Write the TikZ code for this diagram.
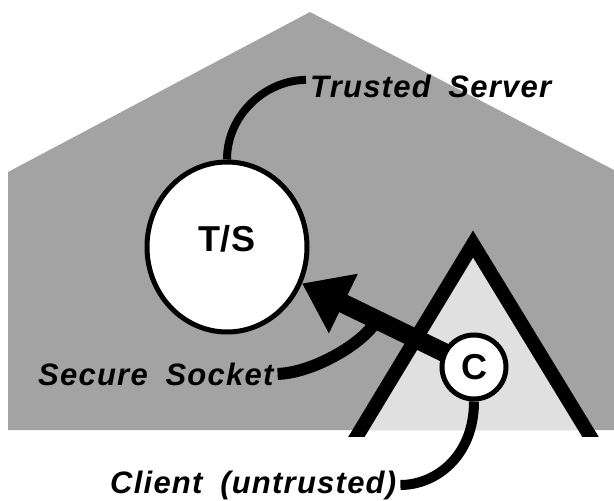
\documentclass[tikz,border=0pt]{standalone}
\usepackage{fontspec}
\setmainfont{Liberation Sans}
\newfontfamily\labelfont{Liberation Sans}[LetterSpace=4, WordSpace=1.8]
\usetikzlibrary{arrows.meta,shapes.geometric}

\begin{document}
\begin{tikzpicture}[x=1pt,y=-1pt,
  labeltext/.style={font=\labelfont\fontsize{31}{34}\selectfont\bfseries\itshape, inner xsep=4pt, inner ysep=0pt},
  leader/.style={line width=9pt},
  sockarrow/.style={line width=19pt, -{Triangle[length=46pt,width=63pt]}}]
\useasboundingbox (0,0) rectangle (614,501);
% shaded house, lighter zone of the client
\fill[black!36] (8,430) -- (8,172) -- (310,12) -- (614,170) -- (614,430) -- cycle;
\fill[black!12] (473,244) -- (360.6,430) -- (586,430) -- cycle;
% trusted server
\node[ellipse, draw, line width=5pt, fill=white, minimum width=160pt, minimum height=170pt,
  font=\fontsize{36}{40}\selectfont\bfseries, text depth=18pt] (TS) at (227,247) {T/S};
% the tent round the client
\begin{scope}
\clip (0,0) rectangle (614,436);
\draw[line width=14pt, line join=miter] (348.5,450) -- (473,244) -- (598.5,450);
\end{scope}
% client
\node[circle, draw, line width=5pt, fill=white, minimum size=64pt, inner sep=0pt,
  font=\fontsize{36}{40}\selectfont\bfseries] (C) at (474,367) {C};
\draw[sockarrow, shorten <=-4pt] (C) -- (TS);
\coordinate (socket) at (377,320);
% labels and their leaders
\node[labeltext, anchor=base west] (tslabel) at (306,97) {Trusted Server};
\node[labeltext, anchor=base west] (sslabel) at (34,385) {Secure Socket};
\node[labeltext, anchor=base west] (clabel) at (106,493) {Client (untrusted)};
\draw[leader, line width=8pt] (TS.north) .. controls +(0,-45) and +(-40,0) .. ([yshift=6pt]tslabel.west);
\draw[leader, line width=12pt] (sslabel.east) .. controls +(35,-1) and +(-14,24) .. (socket);
\draw[leader, line width=10pt] (C.south) .. controls +(0,55) and +(35,0) .. (clabel.east);
\end{tikzpicture}
\end{document}
